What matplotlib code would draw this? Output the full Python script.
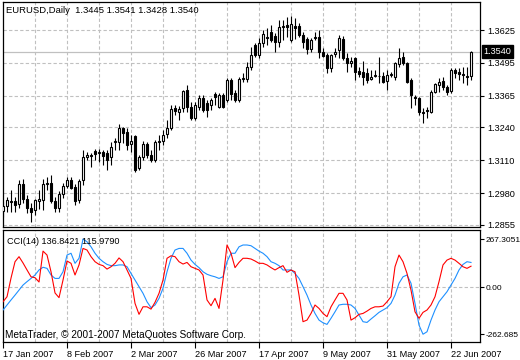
import numpy as np
import matplotlib
matplotlib.use("Agg")
import matplotlib.pyplot as plt
from matplotlib.patches import Rectangle
from matplotlib.transforms import blended_transform_factory

plt.rcParams['font.family'] = ['Liberation Sans', 'DejaVu Sans']
plt.rcParams['font.size'] = 6.6

# EURUSD daily, 17 Jan 2007 .. 29 Jun 2007
opens = [1.2910, 1.2930, 1.2946, 1.2950, 1.2938, 1.3017, 1.2958, 1.2922, 1.2914, 1.2950,
         1.2954, 1.3017, 1.3021, 1.2950, 1.2922, 1.2977, 1.3009, 1.3033, 1.3005, 1.2954,
         1.3033, 1.3124, 1.3131, 1.3147, 1.3139, 1.3143, 1.3139, 1.3124, 1.3183, 1.3183,
         1.3238, 1.3222, 1.3175, 1.3207, 1.3080, 1.3124, 1.3175, 1.3131, 1.3112, 1.3183,
         1.3187, 1.3214, 1.3238, 1.3317, 1.3301, 1.3317, 1.3388, 1.3321, 1.3278, 1.3321,
         1.3357, 1.3337, 1.3329, 1.3372, 1.3321, 1.3368, 1.3349, 1.3428, 1.3376, 1.3349,
         1.3432, 1.3432, 1.3479, 1.3566, 1.3526, 1.3574, 1.3597, 1.3617, 1.3601, 1.3578,
         1.3637, 1.3645, 1.3586, 1.3641, 1.3641, 1.3605, 1.3589, 1.3550, 1.3593, 1.3597,
         1.3538, 1.3526, 1.3475, 1.3530, 1.3546, 1.3589, 1.3514, 1.3495, 1.3514, 1.3463,
         1.3459, 1.3455, 1.3432, 1.3443, 1.3443, 1.3443, 1.3424, 1.3447, 1.3439, 1.3491,
         1.3518, 1.3495, 1.3428, 1.3360, 1.3357, 1.3301, 1.3309, 1.3301, 1.3380, 1.3408,
         1.3424, 1.3400, 1.3384, 1.3467, 1.3459, 1.3451, 1.3443, 1.3445]
highs = [1.2946, 1.2965, 1.2993, 1.2965, 1.3033, 1.3036, 1.2973, 1.2942, 1.2958, 1.2993,
         1.3036, 1.3044, 1.3052, 1.2965, 1.2989, 1.3021, 1.3044, 1.3044, 1.3017, 1.3036,
         1.3151, 1.3143, 1.3139, 1.3155, 1.3155, 1.3151, 1.3151, 1.3183, 1.3199, 1.3254,
         1.3242, 1.3238, 1.3210, 1.3210, 1.3131, 1.3187, 1.3183, 1.3151, 1.3191, 1.3210,
         1.3230, 1.3270, 1.3329, 1.3329, 1.3325, 1.3388, 1.3408, 1.3341, 1.3341, 1.3368,
         1.3368, 1.3349, 1.3357, 1.3380, 1.3376, 1.3376, 1.3436, 1.3436, 1.3388, 1.3439,
         1.3455, 1.3499, 1.3558, 1.3574, 1.3593, 1.3625, 1.3633, 1.3645, 1.3613, 1.3664,
         1.3664, 1.3676, 1.3680, 1.3672, 1.3653, 1.3617, 1.3597, 1.3593, 1.3617, 1.3625,
         1.3554, 1.3534, 1.3530, 1.3554, 1.3605, 1.3601, 1.3534, 1.3518, 1.3518, 1.3479,
         1.3503, 1.3475, 1.3467, 1.3467, 1.3518, 1.3459, 1.3467, 1.3459, 1.3499, 1.3554,
         1.3538, 1.3499, 1.3436, 1.3368, 1.3360, 1.3317, 1.3321, 1.3388, 1.3416, 1.3436,
         1.3439, 1.3408, 1.3475, 1.3475, 1.3475, 1.3479, 1.3479, 1.3541]
lows = [1.2887, 1.2906, 1.2906, 1.2906, 1.2922, 1.2942, 1.2902, 1.2867, 1.2894, 1.2918,
        1.2914, 1.2993, 1.2942, 1.2906, 1.2906, 1.2962, 1.3001, 1.2997, 1.2934, 1.2942,
        1.3013, 1.3112, 1.3084, 1.3112, 1.3104, 1.3092, 1.3072, 1.3092, 1.3151, 1.3151,
        1.3179, 1.3151, 1.3143, 1.3064, 1.3072, 1.3112, 1.3120, 1.3104, 1.3104, 1.3151,
        1.3171, 1.3199, 1.3230, 1.3289, 1.3270, 1.3301, 1.3301, 1.3270, 1.3270, 1.3309,
        1.3301, 1.3282, 1.3309, 1.3329, 1.3317, 1.3317, 1.3341, 1.3349, 1.3341, 1.3341,
        1.3420, 1.3420, 1.3467, 1.3518, 1.3514, 1.3558, 1.3566, 1.3578, 1.3538, 1.3558,
        1.3586, 1.3597, 1.3578, 1.3589, 1.3597, 1.3554, 1.3530, 1.3538, 1.3586, 1.3514,
        1.3518, 1.3455, 1.3459, 1.3518, 1.3514, 1.3507, 1.3459, 1.3479, 1.3428, 1.3439,
        1.3408, 1.3416, 1.3428, 1.3439, 1.3416, 1.3416, 1.3388, 1.3439, 1.3428, 1.3479,
        1.3487, 1.3416, 1.3317, 1.3329, 1.3289, 1.3258, 1.3278, 1.3297, 1.3376, 1.3380,
        1.3388, 1.3368, 1.3376, 1.3436, 1.3428, 1.3416, 1.3408, 1.3428]
closes = [1.2930, 1.2954, 1.2950, 1.2934, 1.3017, 1.2958, 1.2922, 1.2906, 1.2954, 1.2958,
          1.3017, 1.3021, 1.2950, 1.2922, 1.2977, 1.3009, 1.3033, 1.3001, 1.2950, 1.3029,
          1.3124, 1.3131, 1.3128, 1.3135, 1.3143, 1.3128, 1.3112, 1.3163, 1.3187, 1.3238,
          1.3218, 1.3171, 1.3187, 1.3072, 1.3124, 1.3175, 1.3131, 1.3112, 1.3183, 1.3187,
          1.3210, 1.3238, 1.3313, 1.3305, 1.3313, 1.3384, 1.3321, 1.3278, 1.3329, 1.3357,
          1.3309, 1.3309, 1.3349, 1.3360, 1.3368, 1.3321, 1.3428, 1.3372, 1.3349, 1.3432,
          1.3436, 1.3479, 1.3526, 1.3526, 1.3574, 1.3609, 1.3593, 1.3586, 1.3578, 1.3637,
          1.3641, 1.3637, 1.3649, 1.3633, 1.3605, 1.3578, 1.3550, 1.3586, 1.3597, 1.3538,
          1.3522, 1.3475, 1.3526, 1.3538, 1.3593, 1.3514, 1.3495, 1.3503, 1.3459, 1.3451,
          1.3439, 1.3428, 1.3439, 1.3447, 1.3445, 1.3420, 1.3447, 1.3451, 1.3495, 1.3514,
          1.3495, 1.3420, 1.3368, 1.3357, 1.3301, 1.3299, 1.3305, 1.3380, 1.3412, 1.3420,
          1.3400, 1.3380, 1.3467, 1.3455, 1.3451, 1.3449, 1.3439, 1.3540]

cci_red = [-82, -54, 50, 141, 169, 134, 95, 57, 52, 28,
           200, 178, 85, -33, -59, 39, 145, 132, 67, 123,
           215, 206, 169, 141, 126, 119, 100, 113, 132, 162,
           141, 95, 48, -91, -152, -110, -110, -123, -85, -35,
           39, 160, 174, 169, 141, 128, 137, 113, 104, 95,
           67, -72, -104, -63, -119, 39, 234, 188, 108, 137,
           160, 160, 156, 145, 132, 132, 123, 108, 95, 108,
           119, 82, 95, 85, -45, -193, -184, -147, -100, -119,
           -147, -165, -110, -72, -35, -35, -72, -184, -171, -152,
           -147, -134, -119, -110, -110, -106, -82, -54, 113, 178,
           141, 76, -17, -138, -174, -141, -128, -100, -54, 30,
           123, 150, 160, 150, 132, 113, 104, 115.979]
cci_blue = [-128, -100, -72, -45, -17, 11, 30, 48, 67, 95,
            110, 104, 67, 48, 48, 85, 178, 188, 132, 160,
            267.3051, 252, 224, 188, 160, 141, 126, 119, 119, 123,
            123, 113, 76, 39, 2, -35, -82, -115, -100, -63,
            -7, 85, 160, 206, 215, 215, 188, 150, 126, 108,
            85, 71, 63, 57, 48, 57, 141, 188, 188, 224,
            234, 234, 230, 215, 200, 188, 169, 141, 132, 119,
            95, 95, 95, 76, 48, 2, -45, -100, -147, -184,
            -199, -208, -174, -138, -100, -96, -96, -100, -119, -156,
            -193, -197, -178, -160, -141, -128, -115, -91, -45, 21,
            57, 67, 21, -91, -212, -262.685, -249, -184, -128, -82,
            -54, -26, 11, 48, 95, 126, 141, 136.8421]

price_ticks = [1.3625, 1.3495, 1.3365, 1.3240, 1.3110, 1.2980, 1.2855]
date_labels = ["17 Jan 2007", "8 Feb 2007", "2 Mar 2007", "26 Mar 2007",
               "17 Apr 2007", "9 May 2007", "31 May 2007", "22 Jun 2007"]
cci_ticks = [267.3051, 0.0, -262.685]
cci_tick_labels = ["267.3051", "0.00", "-262.685"]
last_price = 1.3540

W, H = 520, 360
GRID = dict(color="#c0c0c0", lw=0.8, ls=(0, (3, 2)))


def box(x0, y0, x1, y1):
    # pixel box (from top-left) -> figure fraction rect
    return [x0 / W, 1 - y1 / H, (x1 - x0) / W, (y1 - y0) / H]


fig = plt.figure(figsize=(W / 100, H / 100), dpi=100)
ax = fig.add_axes(box(2.5, 2, 480, 227))
ax2 = fig.add_axes(box(2.5, 230, 480, 342))
ax2.set_zorder(2)

n = len(closes)
x = np.arange(n)
o = np.array(opens)
c = np.array(closes)
xlim = (-0.13, 119.25)

# ---- price panel
for gx in range(8, 113, 8):
    ax.axvline(gx, zorder=0, **GRID)
    ax2.axvline(gx, zorder=0, **GRID)
for gy in price_ticks:
    ax.axhline(gy, zorder=0, **GRID)
ax.axhline(last_price, color="#c0c0c0", lw=0.9, zorder=1)

ax.vlines(x, lows, highs, color="black", lw=0.8, zorder=2)
bottoms = np.minimum(o, c)
heights = np.maximum(np.abs(c - o), 0.00003)
face = np.where(c >= o, "white", "black")
ax.bar(x, heights, bottom=bottoms, width=0.55, color=face,
       edgecolor="black", linewidth=0.8, zorder=3)

ax.set_xlim(*xlim)
ax.set_ylim(1.28469, 1.37356)
ax.set_xticks([])
ax.yaxis.tick_right()
ax.set_yticks(price_ticks)
ax.set_yticklabels([f"{p:.4f}" for p in price_ticks])
ax.tick_params(axis="y", length=3, width=0.8, pad=2, right=True, left=False)
for s in ax.spines.values():
    s.set_linewidth(0.9)

tr = blended_transform_factory(ax.transAxes, ax.transData)
ax.text(1.0068, last_price, "1.3540", transform=tr, ha="left", va="center",
        color="white", clip_on=False, zorder=5,
        bbox=dict(boxstyle="square,pad=0.18", fc="black", ec="black"))

fig.text(6 / W, 1 - 10.5 / H, "EURUSD,Daily  1.3445 1.3541 1.3428 1.3540",
         ha="left", va="center", fontsize=6.8)

# hide lower part of the price scale under the indicator window
fig.patches.append(Rectangle((481 / W, 0), 1, 1 - 229 / H, transform=fig.transFigure,
                             fc="white", ec="none", zorder=1))

# ---- CCI panel
ax2.axhline(0, zorder=0, **GRID)
ax2.plot(x, cci_blue, color="#1e90ff", lw=0.8, zorder=3)
ax2.plot(x, cci_red, color="red", lw=0.8, zorder=4)
ax2.set_xlim(*xlim)
ax2.set_ylim(-306, 317.5)
ax2.yaxis.tick_right()
ax2.set_yticks(cci_ticks)
ax2.set_yticklabels(cci_tick_labels, fontsize=6.0)
ax2.tick_params(axis="y", length=3, width=0.8, pad=1.2, right=True, left=False)
ax2.set_xticks(range(0, 113, 16))
ax2.set_xticklabels(date_labels, ha="left")
ax2.tick_params(axis="x", length=4, width=0.8, pad=1.5)
for s in ax2.spines.values():
    s.set_linewidth(0.9)

fig.text(7 / W, 1 - 241 / H, "CCI(14) 136.8421 115.9790", ha="left", va="center", zorder=5)
fig.text(5 / W, 1 - 335 / H, "MetaTrader, \u00a9 2001-2007 MetaQuotes Software Corp.",
         ha="left", va="center", zorder=5, fontsize=7.2)

fig.savefig("out.png", dpi=100, facecolor="white")
